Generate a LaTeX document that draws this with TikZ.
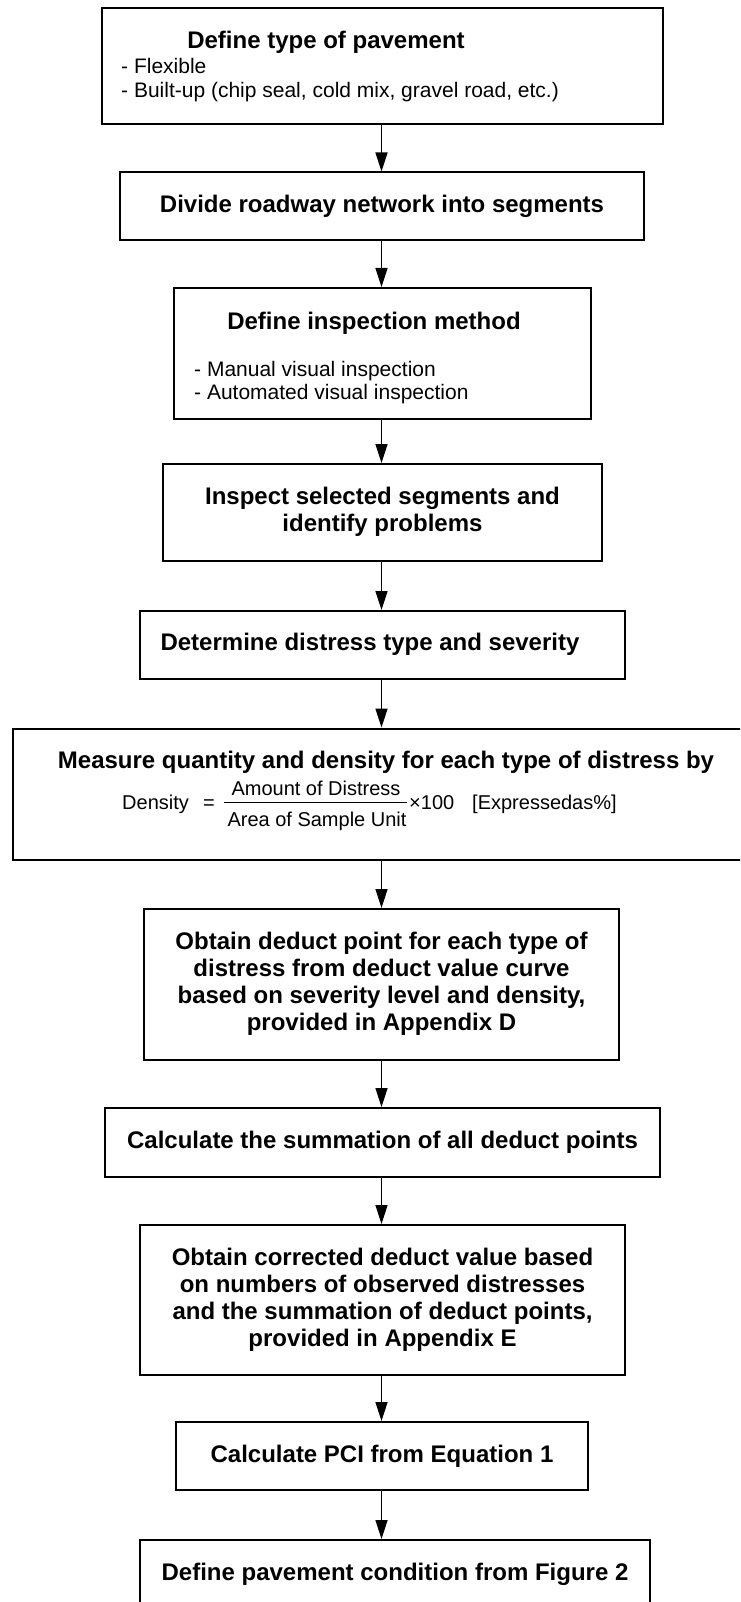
\documentclass[tikz,border=0pt]{standalone}
\usepackage{fontspec}
\setmainfont{Liberation Sans}
\usetikzlibrary{arrows.meta}
\begin{document}
\begin{tikzpicture}[x=1pt,y=-1pt,
  box/.style={draw=black, line width=2pt, inner sep=0pt, anchor=north west},
  bt/.style={font=\fontsize{24}{27}\selectfont\bfseries, align=center, inner sep=0pt},
  rt/.style={font=\fontsize{21}{24}\selectfont, inner sep=0pt, anchor=base west},
  ft/.style={font=\fontsize{20}{24}\selectfont, inner sep=0pt},
  arr/.style={-{Triangle[length=19pt,width=12pt]}, line width=1.5pt}]
\useasboundingbox (0,0) rectangle (740,1602);
\fill[white] (0,0) rectangle (740,1602);
\clip (0,0) rectangle (740,1602);
\coordinate (spine) at (381.5,0);

% boxes
\node[box, minimum width=561pt, minimum height=116.5pt] (b1) at (101,7) {};
\node[box, bt, minimum width=524pt, minimum height=67.5pt] (b2) at (119,171.5) {Divide roadway network into segments};
\node[box, minimum width=417pt, minimum height=131pt] (b3) at (173,287) {};
\node[box, bt, minimum width=439pt, minimum height=96.5pt] (b4) at (162,463) {Inspect selected segments and\\identify problems};
\node[box, minimum width=485pt, minimum height=68pt] (b5) at (139,610) {};
\node[box, minimum width=740pt, minimum height=131.5pt] (b6) at (12,727.5) {};
\node[box, bt, minimum width=475pt, minimum height=150.5pt] (b7) at (143,908) {Obtain deduct point for each type of\\distress from deduct value curve\\based on severity level and density,\\provided in Appendix D};
\node[box, bt, minimum width=555pt, minimum height=69pt] (b8) at (104,1107) {Calculate the summation of all deduct points};
\node[box, bt, minimum width=485pt, minimum height=150pt] (b9) at (139,1224) {Obtain corrected deduct value based\\on numbers of observed distresses\\and the summation of deduct points,\\provided in Appendix E};
\node[box, bt, minimum width=412pt, minimum height=68pt] (b10) at (175,1421) {Calculate PCI from Equation 1};
\node[box, bt, minimum width=510pt, minimum height=68pt] (b11) at (139,1539) {Define pavement condition from Figure 2};

% box 1 texts
\node[bt, anchor=base] (t1) at (326,49) {Define type of pavement};
\node[rt] (t1a) at (121,73.3) {- Flexible};
\node[rt] (t1b) at (121,97.3) {- Built-up (chip seal, cold mix, gravel road, etc.)};

% box 3 texts
\node[bt, anchor=base] (t3) at (374,330) {Define inspection method};
\node[rt] (t3a) at (194,376) {- Manual visual inspection};
\node[rt] (t3b) at (194,399) {- Automated visual inspection};

% box 5 text
\node[bt] (t5) at (370,644) {Determine distress type and severity};

% box 6 texts
\node[bt, anchor=base] (t6) at (386,768) {Measure quantity and density for each type of distress by};
\node[ft, anchor=base west] (dens) at (122,809) {Density};
\node[ft, anchor=base west] (eq) at (203,809) {=};
\node[ft, anchor=base] (num) at (316,795) {Amount of Distress};
\node[ft, anchor=base] (den) at (317,826) {Area of Sample Unit};
\draw[line width=1pt] (224,802) -- (407,802);
\node[ft, anchor=base west] (times) at (409,809) {×100};
\node[ft, anchor=base west] (expr) at (472,809) {[Expressedas\%]};

% arrows
\draw[arr] (spine |- b1.south) -- (spine |- b2.north);
\draw[arr] (spine |- b2.south) -- (spine |- b3.north);
\draw[arr] (spine |- b3.south) -- (spine |- b4.north);
\draw[arr] (spine |- b4.south) -- (spine |- b5.north);
\draw[arr] (spine |- b5.south) -- (spine |- b6.north);
\draw[arr] (spine |- b6.south) -- (spine |- b7.north);
\draw[arr] (spine |- b7.south) -- (spine |- b8.north);
\draw[arr] (spine |- b8.south) -- (spine |- b9.north);
\draw[arr] (spine |- b9.south) -- (spine |- b10.north);
\draw[arr] (spine |- b10.south) -- (spine |- b11.north);
\end{tikzpicture}
\end{document}
